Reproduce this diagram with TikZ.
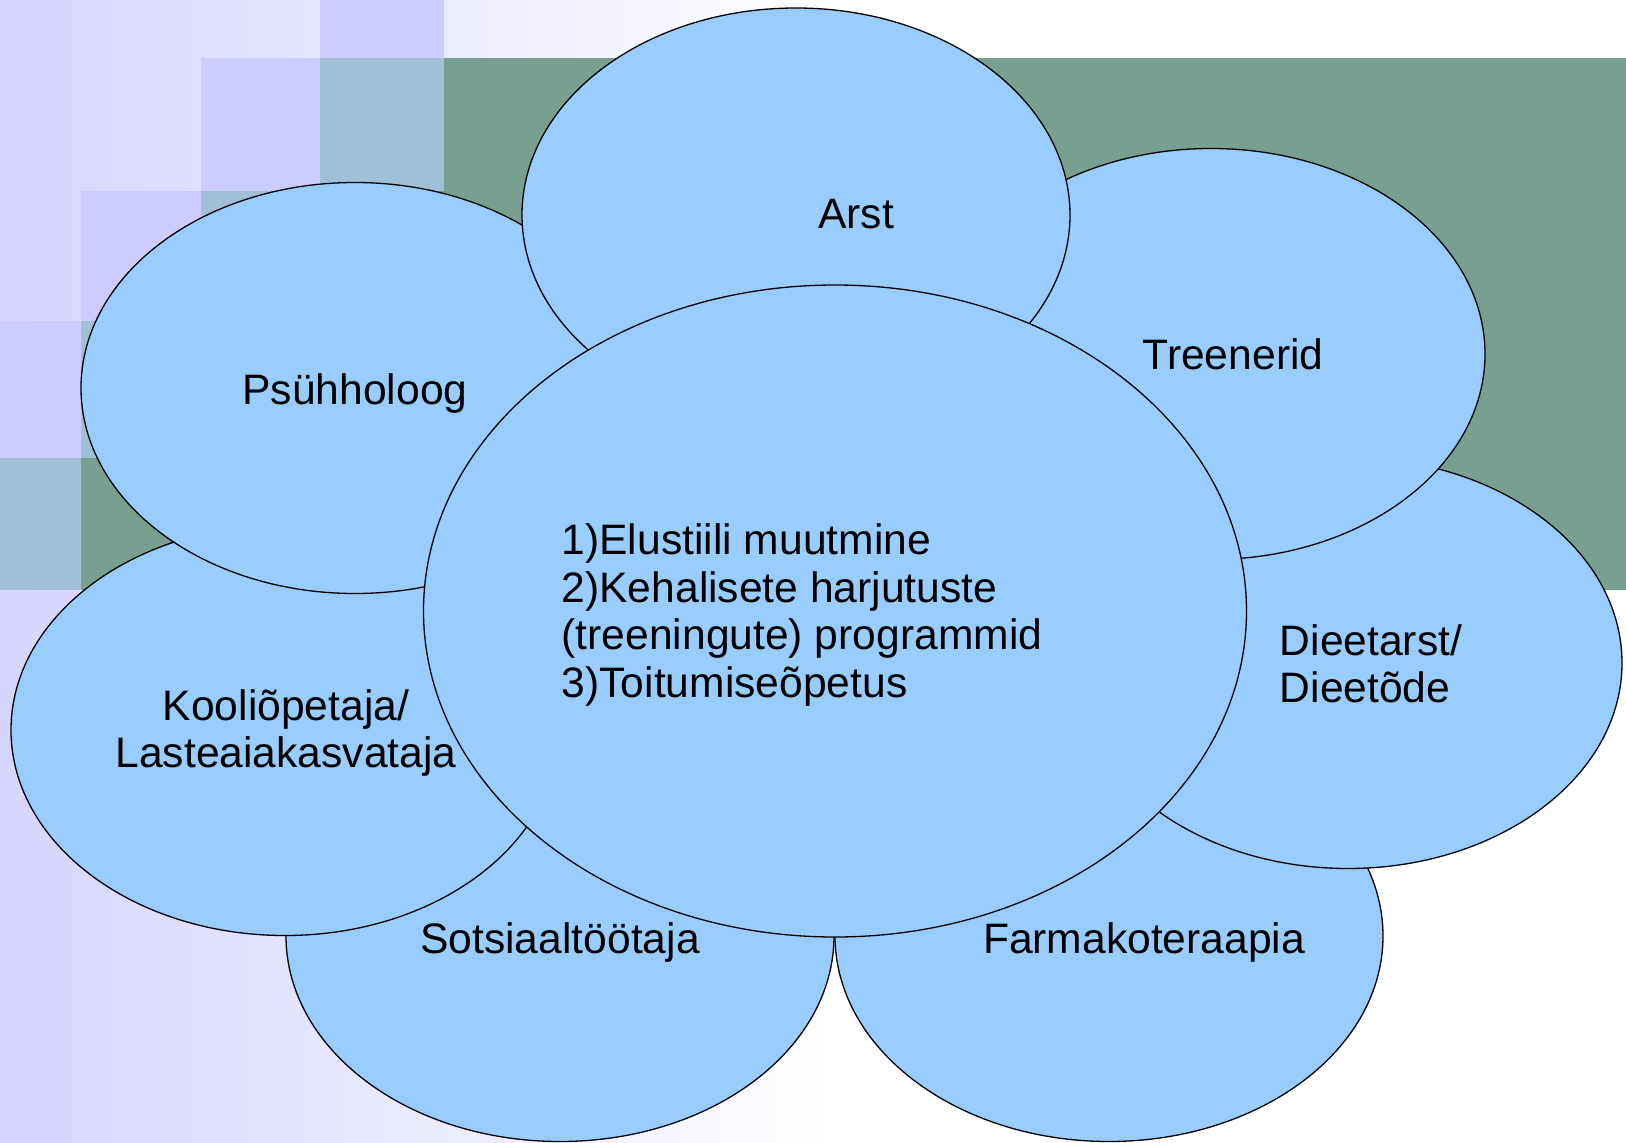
\documentclass[tikz,border=0pt]{standalone}
\usepackage{fontspec}
\setmainfont{Liberation Sans}
\usepackage{xcolor}
\definecolor{bubbleBlue}{HTML}{99CCFF}
\definecolor{slideGreen}{HTML}{77A090}
\definecolor{tileLilac}{HTML}{CCCCFF}
\definecolor{tileSteel}{HTML}{A0C0D8}
\definecolor{paleLilac}{HTML}{D5D5FF}
\usepackage{tikz}
\usetikzlibrary{shapes.geometric}
\tikzset{bubble/.style = {ellipse, draw = black, line width = 1.3pt, fill = bubbleBlue, minimum width = 548pt, minimum height = 411pt, inner sep = 0pt}}
\usetikzlibrary{calc}

\begin{document}
\begin{tikzpicture}[x = 1pt, y = -1pt, words/.style = {font = \fontsize{42.6}{47.4}\selectfont, inner sep = 0pt}]
	\useasboundingbox (0, 0) rectangle (1626, 1143);

	%% Background
	\fill[white] (0, 0) rectangle (1626, 1143);
	\shade[left color = paleLilac, right color = white] (0, 0) rectangle (830, 1143);
	\foreach \xa/\ya/\xb/\yb in {320/0/444/58, 201/58/320/191, 81/191/201/321, 0/321/81/458}
		\fill[tileLilac] (\xa, \ya) rectangle (\xb, \yb);
	\foreach \xa/\ya/\xb/\yb in {320/58/444/191, 201/191/320/321, 81/321/201/458, 0/458/81/590}
		\fill[tileSteel] (\xa, \ya) rectangle (\xb, \yb);
	\fill[slideGreen] (444, 58) -- (1626, 58) -- (1626, 590) -- (81, 590) -- (81, 458) -- (201, 458)
		-- (201, 321) -- (320, 321) -- (320, 191) -- (444, 191) -- cycle;

	%% Outer bubbles (back to front)
	\node[bubble] (sots) at (560, 936) {};
	\node[bubble] (farm) at (1109, 936) {};
	\node[bubble] (kool) at (285, 730) {};
	\node[bubble] (psyh) at (355, 388) {};
	\node[bubble] (dieet) at (1348, 663) {};
	\node[bubble] (treen) at (1211, 354) {};
	\node[bubble, minimum height = 414pt] (arst) at (796, 215) {};

	%% Centre bubble
	\node[bubble, minimum width = 823pt, minimum height = 652pt] (centre) at (835, 611) {};

	%% Texts
	\node[words, anchor = base] (arstText) at ($(arst) + (60, 13)$) {Arst};
	\node[words, anchor = base] (treenText) at ($(treen) + (22, 15)$) {Treenerid};
	\node[words, anchor = base] (psyhText) at ($(psyh) + (0, 16)$) {Psühholoog};
	\node[words, anchor = base] (sotsText) at ($(sots) + (0, 17)$) {Sotsiaaltöötaja};
	\node[words, anchor = base] (farmText) at ($(farm) + (35, 17)$) {Farmakoteraapia};
	\node[words, align = center] (koolText) at ($(kool) + (1, 3)$) {Kooliõpetaja/\\Lasteaiakasvataja};
	\node[words, align = left] (dieetText) at ($(dieet) + (23, 1)$) {Dieetarst/\\Dieetõde};
	\node[words, align = left] (centreText) at ($(centre) + (-33, 4)$) {1)Elustiili muutmine\\2)Kehalisete harjutuste\\(treeningute) programmid\\3)Toitumiseõpetus};
\end{tikzpicture}
\end{document}
